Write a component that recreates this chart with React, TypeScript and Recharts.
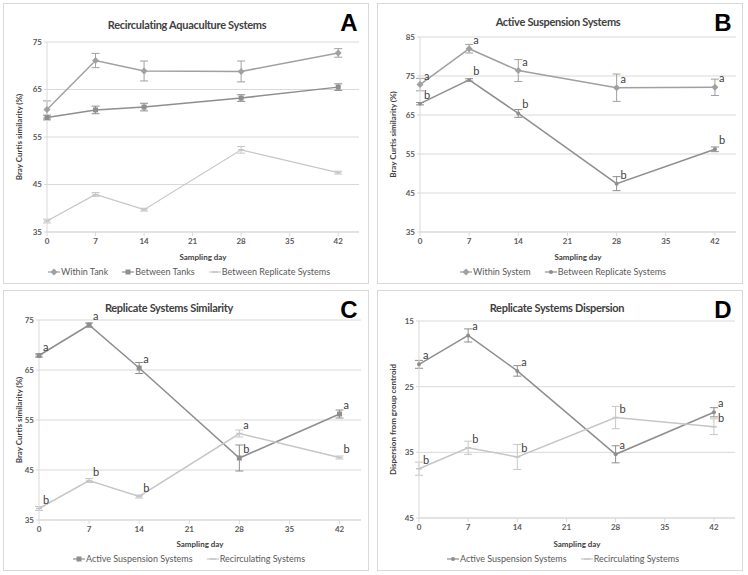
import React from 'react';
import {
  LineChart,
  Line,
  XAxis,
  YAxis,
  CartesianGrid,
  ErrorBar,
  Legend,
} from 'recharts';

// sampling days shared by every panel
const DAYS = [0, 7, 14, 28, 42];
const X_TICKS = [0, 7, 14, 21, 28, 35, 42];

// A - Recirculating Aquaculture Systems
const A_WITHIN_TANK = [60.8, 71.1, 68.9, 68.8, 72.7];
const A_WITHIN_TANK_ERR = [1.8, 1.5, 2.1, 2.2, 0.9];
const A_BETWEEN_TANKS = [59.1, 60.7, 61.3, 63.2, 65.5];
const A_BETWEEN_TANKS_ERR = [0.5, 0.8, 0.8, 0.7, 0.7];
const A_BETWEEN_REPL = [37.3, 42.9, 39.7, 52.3, 47.5];
const A_BETWEEN_REPL_ERR = [0.4, 0.4, 0.3, 0.7, 0.3];

// B - Active Suspension Systems
const B_WITHIN_SYSTEM = [72.8, 82.0, 76.4, 72.0, 72.1];
const B_WITHIN_SYSTEM_ERR = [1.6, 1.1, 2.8, 3.5, 2.1];
const B_WITHIN_LETTERS = ['a', 'a', 'a', 'a', 'a'];
const B_BETWEEN_REPL = [67.9, 74.0, 65.4, 47.4, 56.2];
const B_BETWEEN_REPL_ERR = [0.3, 0.3, 1.0, 1.8, 0.6];
const B_BETWEEN_LETTERS = ['b', 'b', 'b', 'b', 'b'];

// C - Replicate Systems Similarity
const C_ACTIVE = [67.9, 74.0, 65.4, 47.4, 56.2];
const C_ACTIVE_ERR = [0.3, 0.4, 1.1, 2.6, 0.8];
const C_ACTIVE_LETTERS = ['a', 'a', 'a', 'b', 'a'];
const C_RECIRC = [37.3, 42.9, 39.7, 52.3, 47.5];
const C_RECIRC_ERR = [0.4, 0.4, 0.3, 0.7, 0.3];
const C_RECIRC_LETTERS = ['b', 'b', 'b', 'a', 'b'];

// D - Replicate Systems Dispersion
const D_ACTIVE = [21.6, 17.2, 22.6, 35.3, 28.9];
const D_ACTIVE_ERR = [0.6, 1.0, 0.8, 1.3, 0.7];
const D_ACTIVE_LETTERS = ['a', 'a', 'a', 'a', 'a'];
const D_RECIRC = [37.5, 34.3, 35.7, 29.7, 31.1];
const D_RECIRC_ERR = [1.0, 1.0, 1.9, 1.7, 1.2];
const D_RECIRC_LETTERS = ['b', 'b', 'b', 'b', 'b'];

const FONT = 'Lato, "Open Sans", sans-serif';
const TEXT = '#595959';
const GRID = '#d9d9d9';
const DARK = '#8e8e8e';
const MID = '#a0a0a0';
const LIGHT = '#c6c6c6';

type MarkerKind = 'diamond' | 'square' | 'dash' | 'dot';

interface Series {
  name: string;
  values: number[];
  errors: number[];
  letters?: string[];
  color: string;
  width: number;
  marker: MarkerKind;
}

const Marker = ({ kind, cx, cy, color }: { kind: MarkerKind; cx: number; cy: number; color: string }) => {
  if (kind === 'diamond') {
    return <polygon points={`${cx},${cy - 3.5} ${cx + 3.5},${cy} ${cx},${cy + 3.5} ${cx - 3.5},${cy}`} fill={color} />;
  }
  if (kind === 'square') {
    return <rect x={cx - 2.5} y={cy - 2.5} width={5} height={5} fill={color} />;
  }
  if (kind === 'dot') {
    return <circle cx={cx} cy={cy} r={2} fill={color} />;
  }
  return <line x1={cx - 3} x2={cx + 3} y1={cy} y2={cy} stroke={color} strokeWidth={1.5} />;
};

interface PanelProps {
  left: number;
  top: number;
  title: string;
  titleX: number;
  titleY: number;
  letter: string;
  yLabel: string;
  yDomain: [number, number];
  yTicks: number[];
  reversed?: boolean;
  series: Series[];
  margin: { top: number; right: number; bottom: number; left: number };
}

const W = 366;
const H = 281;

const Panel: React.FC<PanelProps> = ({ left, top, title, titleX, titleY, letter, yLabel, yDomain, yTicks, reversed, series, margin }) => {
  const data = DAYS.map((day, i) => {
    const row: Record<string, number> = { day };
    series.forEach((s, k) => {
      row[`v${k}`] = s.values[i];
      row[`e${k}`] = s.errors[i];
    });
    return row;
  });

  return (
    <div style={{ position: 'absolute', left, top, width: W, height: H, border: `1px solid ${GRID}`, boxSizing: 'border-box', fontFamily: FONT }}>
      <div style={{ position: 'absolute', left: titleX - 150, width: 300, top: titleY, textAlign: 'center', fontSize: 11, letterSpacing: -0.3, lineHeight: '13px', fontWeight: 700, color: '#404040' }}>
        {title}
      </div>
      <div style={{ position: 'absolute', left: 330, width: 30, top: 5, textAlign: 'center', fontSize: 24, fontWeight: 900, color: '#000', fontFamily: 'Arial, "Liberation Sans", sans-serif' }}>
        {letter}
      </div>
      <div style={{ position: 'absolute', left: -1, top: -1 }}>
        <LineChart width={W} height={H} data={data} margin={{ top: margin.top, right: margin.right, bottom: margin.bottom, left: 0 }}>
          <CartesianGrid horizontal vertical={false} stroke={GRID} />
          <XAxis
            dataKey="day"
            type="number"
            domain={[0, 45]}
            ticks={X_TICKS}
            height={20}
            axisLine={{ stroke: GRID }}
            tickLine={{ stroke: GRID }}
            tickSize={4}
            tick={{ fontSize: 8, fill: TEXT, fontWeight: 700, fontFamily: FONT }}
            label={{
              content: ({ viewBox }: any) => (
                <text x={viewBox.x + viewBox.width / 2} y={257} textAnchor="middle" fontSize={8} fontWeight={700} fill="#404040" fontFamily={FONT}>
                  Sampling day
                </text>
              ),
            }}
          />
          <YAxis
            type="number"
            domain={yDomain}
            ticks={yTicks}
            reversed={reversed}
            width={margin.left}
            interval={0}
            axisLine={{ stroke: GRID }}
            tickLine={{ stroke: GRID }}
            tickSize={3}
            tick={{ fontSize: 8, fill: TEXT, fontWeight: 700, fontFamily: FONT }}
            label={{
              content: ({ viewBox }: any) => {
                const x = 19;
                const y = viewBox.y + viewBox.height / 2;
                return (
                  <text x={x} y={y} transform={`rotate(-90, ${x}, ${y})`} textAnchor="middle" fontSize={8} fontWeight={700} fill="#404040" fontFamily={FONT}>
                    {yLabel}
                  </text>
                );
              },
            }}
          />
          <Legend
            layout="horizontal"
            verticalAlign="middle"
            align="center"
            wrapperStyle={{ top: 263, left: 0, width: W }}
            content={() => (
              <div style={{ display: 'flex', justifyContent: 'center', gap: 14, fontSize: 9, color: TEXT, fontFamily: FONT, paddingLeft: 6 }}>
                {series.map((s) => (
                  <span key={s.name} style={{ display: 'flex', alignItems: 'center', gap: 1 }}>
                    <svg width={12} height={8}>
                      <line x1={0} x2={12} y1={4} y2={4} stroke={s.color} strokeWidth={1.2} />
                      <Marker kind={s.marker} cx={6} cy={4} color={s.color} />
                    </svg>
                    {s.name}
                  </span>
                ))}
              </div>
            )}
          />
          {series.map((s, k) => (
            <Line
              key={s.name}
              dataKey={`v${k}`}
              name={s.name}
              stroke={s.color}
              strokeWidth={s.width}
              isAnimationActive={false}
              dot={(p: any) => (
                <g key={`${s.name}-${p.index}`}>
                  <Marker kind={s.marker} cx={p.cx} cy={p.cy} color={s.color} />
                  {s.letters && (
                    <text x={p.cx + 4} y={p.cy - 5} fontSize={11} fill="#404040" fontFamily={FONT}>
                      {s.letters[p.index]}
                    </text>
                  )}
                </g>
              )}
              activeDot={false}
            >
              <ErrorBar dataKey={`e${k}`} direction="y" width={4} stroke={s.color} strokeWidth={1} isAnimationActive={false} />
            </Line>
          ))}
        </LineChart>
      </div>
    </div>
  );
};

export default function App() {
  return (
    <div style={{ position: 'absolute', left: 0, top: 0, width: 748, height: 575, background: '#fff' }}>
      <Panel
        left={3}
        top={3}
        title="Recirculating Aquaculture Systems"
        titleX={183}
        titleY={14}
        letter="A"
        yLabel="Bray Curtis similarity (%)"
        yDomain={[35, 75]}
        yTicks={[35, 45, 55, 65, 75]}
        margin={{ top: 39, right: 10, bottom: 32, left: 44 }}
        series={[
          { name: 'Within Tank', values: A_WITHIN_TANK, errors: A_WITHIN_TANK_ERR, color: MID, width: 1.5, marker: 'diamond' },
          { name: 'Between Tanks', values: A_BETWEEN_TANKS, errors: A_BETWEEN_TANKS_ERR, color: DARK, width: 1.5, marker: 'square' },
          { name: 'Between Replicate Systems', values: A_BETWEEN_REPL, errors: A_BETWEEN_REPL_ERR, color: LIGHT, width: 1.2, marker: 'dash' },
        ]}
      />
      <Panel
        left={377}
        top={3}
        title="Active Suspension Systems"
        titleX={180}
        titleY={11}
        letter="B"
        yLabel="Bray Curtis similarity (%)"
        yDomain={[35, 85]}
        yTicks={[35, 45, 55, 65, 75, 85]}
        margin={{ top: 34, right: 7, bottom: 32, left: 43 }}
        series={[
          { name: 'Within System', values: B_WITHIN_SYSTEM, errors: B_WITHIN_SYSTEM_ERR, letters: B_WITHIN_LETTERS, color: MID, width: 1.5, marker: 'diamond' },
          { name: 'Between Replicate Systems', values: B_BETWEEN_REPL, errors: B_BETWEEN_REPL_ERR, letters: B_BETWEEN_LETTERS, color: DARK, width: 1.5, marker: 'dot' },
        ]}
      />
      <Panel
        left={3}
        top={290}
        title="Replicate Systems Similarity"
        titleX={165}
        titleY={10}
        letter="C"
        yLabel="Bray Curtis similarity (%)"
        yDomain={[35, 75]}
        yTicks={[35, 45, 55, 65, 75]}
        margin={{ top: 30, right: 8, bottom: 31, left: 36 }}
        series={[
          { name: 'Active Suspension Systems', values: C_ACTIVE, errors: C_ACTIVE_ERR, letters: C_ACTIVE_LETTERS, color: DARK, width: 1.5, marker: 'square' },
          { name: 'Recirculating Systems', values: C_RECIRC, errors: C_RECIRC_ERR, letters: C_RECIRC_LETTERS, color: LIGHT, width: 1.5, marker: 'dash' },
        ]}
      />
      <Panel
        left={377}
        top={290}
        title="Replicate Systems Dispersion"
        titleX={179}
        titleY={10}
        letter="D"
        yLabel="Dispersion from group centroid"
        yDomain={[15, 45]}
        yTicks={[15, 25, 35, 45]}
        reversed
        margin={{ top: 31, right: 8, bottom: 33, left: 42 }}
        series={[
          { name: 'Active Suspension Systems', values: D_ACTIVE, errors: D_ACTIVE_ERR, letters: D_ACTIVE_LETTERS, color: DARK, width: 1.5, marker: 'dot' },
          { name: 'Recirculating Systems', values: D_RECIRC, errors: D_RECIRC_ERR, letters: D_RECIRC_LETTERS, color: LIGHT, width: 1.5, marker: 'dash' },
        ]}
      />
    </div>
  );
}
